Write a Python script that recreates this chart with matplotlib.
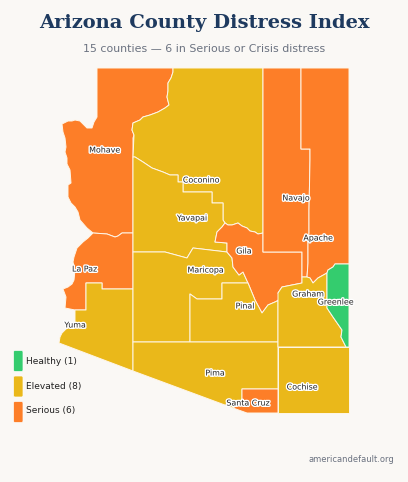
#!/usr/bin/env python3
import matplotlib
matplotlib.use('Agg')
import matplotlib.pyplot as plt
import matplotlib.patheffects as pe
from matplotlib.patches import FancyBboxPatch

bg = '#faf8f5'
status_colors = {'Healthy': '#34cc6e', 'Elevated': '#eab81a', 'Serious': '#fd7e28'}

legend_names = ['Healthy', 'Elevated', 'Serious']
legend_counts = [1, 8, 6]

# shared county borders
coconino_south = [(133, 157), (135, 157), (143, 162), (152, 168), (163, 172), (170, 175), (178, 175),
                  (178, 182), (183, 182), (183, 192), (212, 192), (212, 203), (223, 203), (223, 220), (225, 223)]
gila_north = [(225, 223), (228, 225), (232, 225), (235, 224), (238, 223), (242, 226), (247, 228), (250, 231),
              (255, 232), (258, 234), (263, 233)]
mohave_east = [(133, 232), (133, 138), (134, 135), (132, 130), (133, 123), (140, 120), (143, 117), (150, 115),
               (158, 112), (165, 108), (169, 105), (167, 97), (168, 91), (168, 83), (171, 78), (173, 72), (173, 68)]
navajo_east = [(301, 68), (301, 149), (310, 149), (310, 160), (309, 210), (309, 233), (308, 240), (308, 263), (307, 277)]

mohave = mohave_east[::-1] + [(133, 233), (126, 233), (122, 233), (118, 236), (115, 237), (107, 234), (93, 233),
                              (87, 228), (80, 220), (78, 212), (75, 207), (71, 203), (68, 197), (68, 185), (71, 183),
                              (70, 170), (67, 164), (67, 158), (65, 152), (66, 147), (65, 138), (63, 132), (62, 124),
                              (68, 121), (72, 121), (75, 120), (80, 121), (84, 125), (87, 128), (92, 128), (94, 122),
                              (97, 117), (97, 68)]
la_paz = [(93, 233), (107, 234), (115, 237), (118, 236), (122, 233), (133, 233), (133, 289), (102, 289), (102, 283),
          (86, 283), (86, 310), (75, 310), (65, 308), (66, 297), (63, 289), (68, 287), (72, 284), (74, 280), (75, 270),
          (73, 262), (74, 257), (77, 248), (83, 242), (88, 238)]
yuma = [(86, 283), (102, 283), (102, 289), (133, 289), (133, 371), (59, 343), (60, 337), (62, 333), (66, 329),
        (70, 327), (75, 323), (75, 310), (86, 310)]
coconino = [(173, 68), (263, 68), (263, 233)] + gila_north[::-1] + coconino_south[::-1] + mohave_east[2:]
navajo = [(263, 68)] + navajo_east + [(302, 277), (302, 252), (263, 252)]
apache = navajo_east + [(310, 278), (313, 283), (318, 278), (327, 273), (328, 270), (333, 267), (335, 264),
                        (349, 264), (349, 68)]
greenlee = [(349, 264), (335, 264), (333, 267), (328, 270), (327, 273), (327, 308), (333, 317), (342, 330),
            (341, 337), (346, 347), (349, 347)]
graham = [(302, 277), (307, 277), (310, 278), (313, 283), (318, 278), (327, 273), (327, 308), (333, 317), (342, 330),
          (341, 337), (346, 347), (278, 347), (278, 293), (282, 287), (302, 283)]
gila_south = [(302, 283), (282, 287), (278, 293), (281, 299), (275, 302), (268, 305), (262, 313), (255, 300), (248, 283),
              (243, 272), (239, 275), (233, 267), (232, 258), (227, 252)]
gila = [(215, 242), (217, 232), (222, 227)] + gila_north + [(263, 252), (302, 252)] + gila_south + [(227, 243)]
maricopa = [(133, 252), (165, 252), (187, 258), (193, 248), (210, 250), (227, 252), (232, 258), (233, 267), (239, 275),
            (243, 272), (248, 283), (222, 283), (222, 299), (197, 299), (190, 294), (190, 342), (133, 342)]
yavapai = coconino_south + [(222, 227), (217, 232), (215, 242), (227, 243), (227, 252), (210, 250), (193, 248),
                            (187, 258), (165, 252), (133, 252)]
pinal = [(190, 294), (197, 299), (222, 299), (222, 283), (248, 283), (255, 300), (262, 313), (268, 305), (275, 302),
         (281, 299), (278, 300), (278, 342), (190, 342)]
pima = [(133, 342), (278, 342), (278, 389), (242, 389), (242, 402), (233, 408), (133, 371)]
santa_cruz = [(242, 389), (278, 389), (278, 413), (247, 413), (233, 408), (242, 402)]
cochise = [(278, 347), (349, 347), (349, 413), (278, 413)]

county_names = ['Mohave', 'La Paz', 'Yuma', 'Coconino', 'Yavapai', 'Maricopa', 'Gila', 'Pinal', 'Pima', 'Santa Cruz',
                'Navajo', 'Apache', 'Graham', 'Greenlee', 'Cochise']
county_shapes = [mohave, la_paz, yuma, coconino, yavapai, maricopa, gila, pinal, pima, santa_cruz,
                 navajo, apache, graham, greenlee, cochise]
county_status = ['Serious', 'Serious', 'Elevated', 'Elevated', 'Elevated', 'Elevated', 'Serious', 'Elevated',
                 'Elevated', 'Serious', 'Serious', 'Serious', 'Elevated', 'Healthy', 'Elevated']
label_x = [104.5, 84.5, 75, 201, 192, 205.5, 244, 245, 215, 248, 296, 318, 308, 335.5, 302]
label_y = [150, 269, 325, 180, 218, 270, 251, 306, 373, 403, 198, 238, 294, 302, 387]

fig = plt.figure(figsize=(4.08, 4.82), dpi=100, facecolor=bg)
ax = fig.add_axes([0, 0, 1, 1])
ax.set_xlim(0, 408)
ax.set_ylim(482, 0)
ax.axis('off')

for shape, status in zip(county_shapes, county_status):
    xs, ys = zip(*shape)
    ax.fill(xs, ys, facecolor=status_colors[status], edgecolor='#fff6e8', linewidth=0.7, joinstyle='round')

halo = [pe.withStroke(linewidth=2, foreground='white')]
for name, x, y in zip(county_names, label_x, label_y):
    ax.text(x, y, name, fontsize=5.7, color='#222222', ha='center', va='center', path_effects=halo)

ax.text(204, 23, 'Arizona County Distress Index', fontsize=14, fontweight='bold', family='DejaVu Serif',
        color='#1e3a5f', ha='center', va='center')
ax.text(204, 49.5, '15 counties \u2014 6 in Serious or Crisis distress', fontsize=7.9, color='#6b7280',
        ha='center', va='center')

for i, (name, count) in enumerate(zip(legend_names, legend_counts)):
    y = 361 + i * 25.5
    ax.add_patch(FancyBboxPatch((13.5, y - 10.5), 9.5, 21, boxstyle='round,pad=0,rounding_size=1.5',
                                facecolor=status_colors[name], edgecolor='#fdfdfa', linewidth=0.5))
    ax.text(26, 361 + i * 25, f'{name} ({count})', fontsize=6.5, color='#222222', va='center')

ax.text(394, 460, 'americandefault.org', fontsize=6, color='#6b7280', ha='right', va='center')

fig.savefig('out.png', dpi=100, facecolor=bg)
